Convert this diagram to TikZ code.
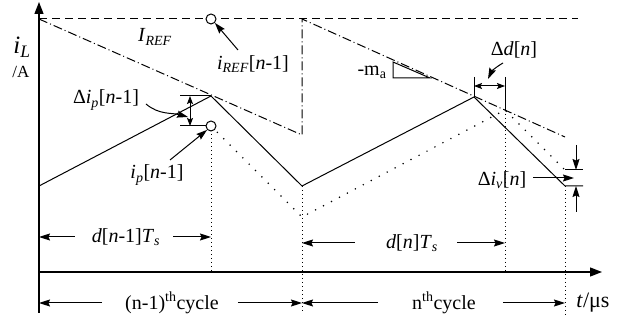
\documentclass[tikz,border=0pt]{standalone}
\usepackage{fontspec}
\setmainfont{Liberation Serif}
\usetikzlibrary{arrows.meta,positioning,calc}
\tikzset{
  axis/.style  = {line width=1.3pt, -{Triangle[length=12pt,width=9pt]}},
  wave/.style  = {line width=1pt},
  ghost/.style = {line width=1.7pt, line cap=round, dash pattern=on 0pt off 9pt},
  guide/.style = {line width=0.9pt, dash pattern=on 1pt off 3pt},
  ramp/.style  = {line width=1pt, dash pattern=on 9pt off 3pt on 1pt off 3pt},
  iref/.style  = {line width=1pt, dash pattern=on 8pt off 5pt},
  sig/.style   = {line width=1pt, -{Stealth[length=11pt,width=7pt,inset=1.5pt]}},
  dim/.style   = {line width=1pt, {Stealth[length=8pt,width=6pt,inset=1.5pt]}-{Stealth[length=8pt,width=6pt,inset=1.5pt]}},
  probe/.style = {circle, draw, line width=1pt, fill=white, minimum size=10pt, inner sep=0pt},
  lbl/.style   = {font=\fontsize{20}{22}\selectfont, inner sep=1pt},
}
\newcommand{\vi}[1]{\textit{#1}}

\begin{document}
\begin{tikzpicture}[x=1pt, y=-1pt]
  \useasboundingbox (0,0) rectangle (630,320);
  % axes
  \coordinate (o) at (39,272);
  \coordinate (ytop) at (39,2);
  \coordinate (ybot) at (39,313);
  \coordinate (tend) at (602,272);
  \draw[axis] (ybot) -- (ytop);
  \draw[axis] (o) -- (tend);
  % key points of the waveforms
  \coordinate (v0) at (39,186);
  \coordinate (p1) at (211,96);
  \coordinate (v1) at (302,186);
  \coordinate (p2) at (474,97);
  \coordinate (v2) at (565,186);
  \coordinate (q1) at (211,126);
  \coordinate (w1) at (302,217);
  \coordinate (q2) at (505,110);
  \coordinate (w2) at (565,170);
  \coordinate (r0) at (39,19);
  \coordinate (r1) at (302,135);
  \coordinate (r2) at (302,19);
  \coordinate (r3) at (565,137);
  \coordinate (rend) at (578,19);
  % reference and compensation ramp
  \draw[iref] (r0) -- (rend);
  \draw[ramp] (r0) -- (r1) -- (r2) -- (r3);
  % inductor current
  \draw[wave] (v0) -- (p1) -- (v1) -- (p2) -- (v2) -- ++(18,0);
  \draw[ghost] (q1) -- (w1) -- (q2) -- (w2);
  % dotted guides
  \draw[guide] (q1) -- (q1 |- o);
  \draw[guide] (v1) -- (v1 |- ybot);
  \draw[guide] (q2) -- (q2 |- o);
  \draw[guide] (v2) -- ($(v2 |- ybot)+(0,2)$);
  \node[probe] (c1) at (211,19) {};
  \node[probe] (c2) at (q1) {};
  % labels
  \node[lbl, font=\fontsize{25}{27}\selectfont] (il) at (22,47) {\vi{i}\textsubscript{\vi{L}}};
  \node[lbl, font=\fontsize{17}{19}\selectfont] (unit) at (21,72) {/A};
  \node[lbl] (Iref) at (155,37) {\vi{I}\textsubscript{\vi{REF}}};
  \node[lbl] (iref) at (253,64) {\vi{i}\textsubscript{\vi{REF}}[\vi{n}-1]};
  \draw[sig] (238,50) -- (c1.south east);
  \node[lbl] (ip) at (157,175) {\vi{i}\textsubscript{\vi{p}}[\vi{n}-1]};
  \draw[sig] (170,160) -- (c2.south west);
  % delta i_p
  \draw[wave] (180,96) -- (p1);
  \draw[wave] (180,126) -- (c2.west);
  \draw[dim] (190,96) -- (190,126);
  \node[lbl] (dip) at (106,100) {Δ\vi{i}\textsubscript{\vi{p}}[\vi{n}-1]};
  \draw[sig] (146,104) to[out=-40,in=165] (188,117);
  % slope triangle
  \node[lbl] (ma) at (372,72) {-m\textsubscript{a}};
  \draw[wave] (393,62) -- (393,78) -- (430,78) -- cycle;
  % delta d
  \draw[wave] (474,77) -- (p2);
  \draw[wave] (505,77) -- (q2);
  \draw[dim] (474,86) -- (505,86);
  \node[lbl] (dd) at (514,50) {Δ\vi{d}[\vi{n}]};
  \draw[sig] (503,63) to[out=210,in=65] (488,79);
  % delta i_v
  \draw[wave] (w2) -- ++(18,0);
  \draw[sig] (576,145) -- (576,170);
  \draw[sig] (576,212) -- (576,186);
  \node[lbl] (div) at (502,180) {Δ\vi{i}\textsubscript{\vi{v}}[\vi{n}]};
  \draw[sig] (533,178) -- (574,178);
  % duty intervals
  \node[lbl] (dn1) at (126,237) {\vi{d}[\vi{n}-1]\vi{T}\textsubscript{\vi{s}}};
  \draw[sig] ([xshift=-16pt]dn1.west) -- (dn1.west -| o);
  \draw[sig] ([xshift=12pt]dn1.east) -- (dn1.east -| q1);
  \node[lbl] (dn) at (412,243) {\vi{d}[\vi{n}]\vi{T}\textsubscript{\vi{s}}};
  \draw[sig] ([xshift=-30pt]dn.west) -- (dn.west -| v1);
  \draw[sig] ([xshift=18pt]dn.east) -- (dn.east -| q2);
  % cycles
  \node[lbl] (cy1) at (172,303) {(n-1)\textsuperscript{th}cycle};
  \draw[sig] ([xshift=-22pt]cy1.west) -- (cy1.west -| o);
  \draw[sig] ([xshift=18pt]cy1.east) -- (cy1.east -| v1);
  \node[lbl] (cy2) at (444,303) {n\textsuperscript{th}cycle};
  \draw[sig] ([xshift=-33pt]cy2.west) -- (cy2.west -| v1);
  \draw[sig] ([xshift=26pt]cy2.east) -- (cy2.east -| v2);
  \node[lbl, font=\fontsize{22}{24}\selectfont] (tus) at (593,303) {\vi{t}/μs};
\end{tikzpicture}
\end{document}
